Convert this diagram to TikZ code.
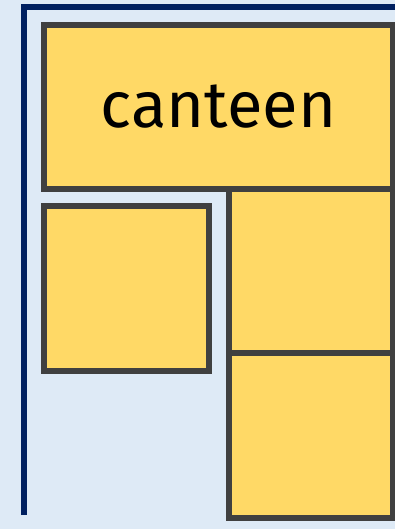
\documentclass[tikz,border=0pt]{standalone}
\usepackage{fontspec}
\setmainfont{Fira Sans}
\definecolor{bg}{HTML}{DEEAF6}
\definecolor{navy}{HTML}{002060}
\definecolor{boxfill}{HTML}{FFD966}
\definecolor{boxline}{HTML}{404040}
\begin{document}
\begin{tikzpicture}[x=1pt,y=-1pt,
  room/.style={draw=boxline,fill=boxfill,line width=6pt,inner sep=0pt,outer sep=0pt,rectangle},
  wall/.style={draw=navy,line width=6pt}]
\useasboundingbox (0,0) rectangle (395,529);
\fill[bg] (0,0) rectangle (395,529);
\coordinate (wl) at (24,515);
\coordinate (wc) at (24,7);
\coordinate (wr) at (400,7);
\draw[wall] (wl) -- (wc) -- (wr);
\node[room,minimum width=349pt,minimum height=164pt,font=\fontsize{65}{72}\selectfont] (canteen) at (218.5,107) {canteen};
\node[room,minimum width=165pt,minimum height=165pt] (roomA) at (126.5,288.5) {};
\node[room,minimum width=164.5pt,minimum height=164pt] (roomB) at (310.75,271) {};
\node[room,minimum width=164.5pt,minimum height=165pt] (roomC) at (310.75,435.5) {};
\end{tikzpicture}
\end{document}
